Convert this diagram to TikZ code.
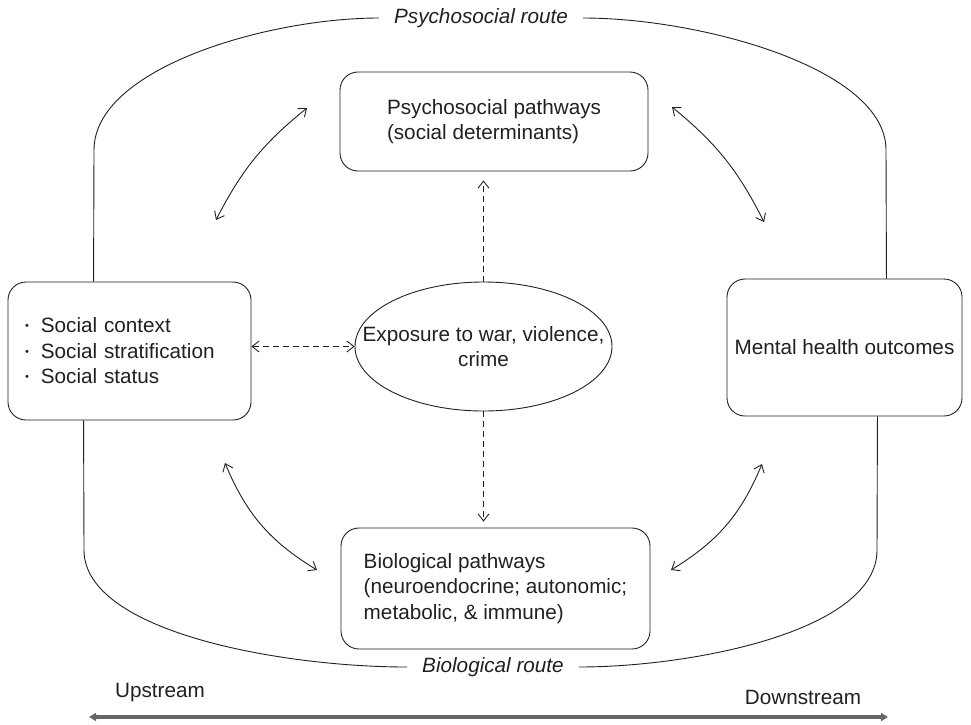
\documentclass[tikz,border=0pt]{standalone}
\usepackage{fontspec}
\setmainfont{Liberation Sans}
\usetikzlibrary{arrows.meta,shapes.geometric}
\definecolor{ink}{HTML}{231F20}
\newcommand{\listdot}{{\fontsize{11}{11}\selectfont\raisebox{3pt}{•}}\hspace{12pt}}
\begin{document}
\begin{tikzpicture}[x=1pt,y=-1pt,
  every node/.style={text=ink, font=\fontsize{20.7}{25.5}\selectfont},
  box/.style={draw=ink, line width=0.9pt, rounded corners=18pt, align=left, inner sep=0pt},
  routelabel/.style={inner xsep=15pt, inner ysep=2pt, font=\fontsize{20.7}{25.5}\selectfont\itshape},
  route/.style={draw=ink, line width=0.9pt},
  >={Straight Barb[length=7pt,width=11pt]},
  twoway/.style={draw=ink, line width=0.9pt, <->},
  dashlink/.style={draw=ink, line width=0.9pt, dash pattern=on 6pt off 4pt},
  scale axis/.style={draw=black!60, line width=3.2pt,
    {Triangle[length=7pt,width=8pt]}-{Triangle[length=7pt,width=8pt]}}
]
\useasboundingbox (0,0) rectangle (971,724);

% main blocks
\node[box, text width=209pt, inner xsep=17pt, minimum height=138pt] (L) at (129.5,351)
  {\listdot Social context\\
   \listdot Social stratification\\
   \listdot Social status};
\node[box, minimum width=308pt, minimum height=99pt] (P) at (494,121.5)
  {Psychosocial pathways\\(social determinants)};
\node[box, minimum width=309pt, minimum height=121pt] (B) at (495.5,588.5)
  {Biological pathways\\(neuroendocrine; autonomic;\\metabolic, \& immune)};
\node[box, align=center, minimum width=235pt, minimum height=137pt] (R) at (844.5,347.5)
  {Mental health outcomes};
\node[ellipse, draw=ink, line width=0.9pt, inner sep=0pt,
  minimum width=257pt, minimum height=129pt] (E) at (483.5,346.5) {};
\node[align=center] (Etext) at (E.center) {Exposure to war, violence,\\crime};

% route labels
\node[routelabel] (PR) at (481,18) {Psychosocial route};
\node[routelabel] (BR) at (493,667) {Biological route};

% psychosocial route (over the top)
\draw[route] ([xshift=86pt]L.north west) -- (94,150)
  .. controls (94,68) and (268,18) .. (PR.west);
\draw[route] (PR.east) .. controls (700,18) and (886,68) .. (886,150)
  -- ([xshift=-76pt]R.north east);

% biological route (underneath)
\draw[route] ([xshift=76pt]L.south west) -- (84,550)
  .. controls (84,632) and (282,667) .. (BR.west);
\draw[route] (BR.east) .. controls (690,667) and (877,632) .. (877,550)
  -- ([xshift=-85pt]R.south east);

% exposure links
\draw[dashlink, ->, shorten >=9pt] (E.north) -- (E.north |- P.south);
\draw[dashlink, ->, shorten >=6pt] (E.south) -- (E.south |- B.north);
\draw[dashlink, <->] (E.west -| L.east) -- (E.west);

% two-way links between the pathways and the outer blocks
\coordinate (tlA) at (216,220);
\coordinate (tlB) at (307,108);
\coordinate (trA) at (672,107);
\coordinate (trB) at (764,222);
\coordinate (blA) at (225,463);
\coordinate (blB) at (317,570);
\coordinate (brA) at (762,464);
\coordinate (brB) at (671,570);
\draw[twoway] (tlA) to[bend left=12] (tlB);
\draw[twoway] (trA) to[bend left=12] (trB);
\draw[twoway] (blA) to[bend right=18] (blB);
\draw[twoway] (brA) to[bend left=18] (brB);

% upstream / downstream axis
\coordinate (up) at (89,717);
\coordinate (down) at (888,717);
\draw[scale axis] (up) -- (down);
\node (UP) at (160,693) {Upstream};
\node (DN) at (803,697) {Downstream};
\end{tikzpicture}
\end{document}
